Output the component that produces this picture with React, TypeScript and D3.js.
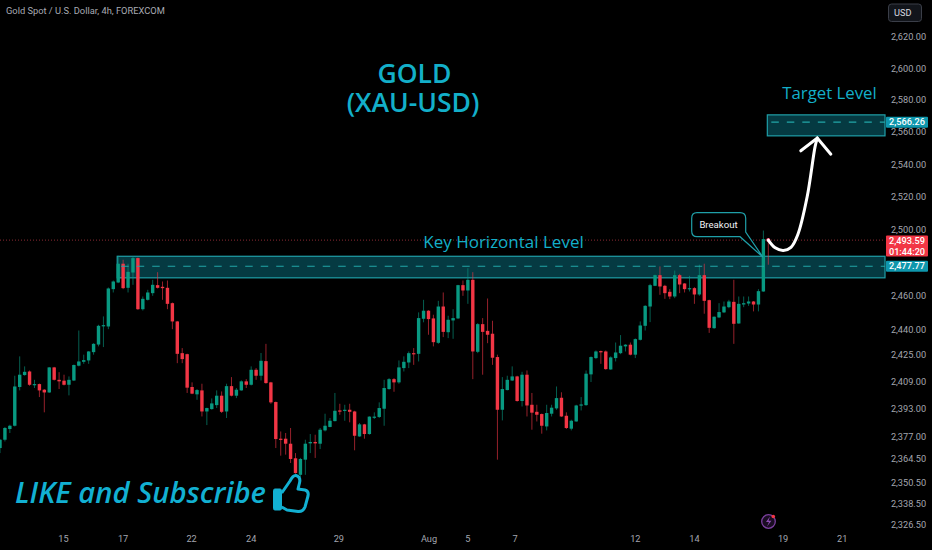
import React, {useRef, useEffect} from 'react';
import * as d3 from 'd3';

const WIDTH = 932;
const HEIGHT = 550;
const PANE_RIGHT = 885;

const opens = [
    2370.5, 2375.3, 2381.5, 2383.4, 2406.0, 2413.0, 2415.1, 2407.1, 2407.7, 2404.4,
    2402.8, 2417.5, 2410.2, 2409.7, 2407.3, 2409.8, 2418.5, 2420.8, 2421.6, 2426.5,
    2431.0, 2441.9, 2441.7, 2464.0, 2468.0, 2479.3, 2464.8, 2474.0, 2482.7, 2452.0,
    2457.6, 2461.6, 2466.4, 2465.4, 2464.8, 2455.6, 2444.7, 2425.9, 2425.3, 2406.0,
    2401.7, 2404.0, 2391.7, 2393.1, 2395.4, 2400.9, 2391.7, 2406.5, 2400.9, 2404.0,
    2409.3, 2407.3, 2416.1, 2412.6, 2421.2, 2408.7, 2397.2, 2375.9, 2375.9, 2373.0,
    2364.6, 2355.1, 2363.8, 2373.2, 2374.0, 2373.0, 2380.7, 2382.7, 2386.1, 2392.3,
    2392.1, 2392.7, 2391.7, 2377.2, 2384.2, 2378.6, 2388.3, 2388.5, 2393.3, 2404.8,
    2410.6, 2408.7, 2417.1, 2420.4, 2425.9, 2425.5, 2446.3, 2451.1, 2446.5, 2432.0,
    2453.6, 2438.3, 2445.3, 2446.5, 2466.4, 2463.2, 2469.6, 2426.7, 2443.1, 2439.1,
    2437.4, 2423.6, 2392.7, 2404.2, 2409.8, 2412.2, 2397.8, 2413.2, 2395.6, 2391.5,
    2390.2, 2383.0, 2390.4, 2393.5, 2399.7, 2389.2, 2381.7, 2385.9, 2395.2, 2395.4,
    2413.4, 2423.0, 2427.1, 2426.9, 2416.3, 2423.0, 2425.9, 2429.9, 2430.9, 2425.0,
    2433.8, 2442.1, 2453.6, 2466.0, 2472.4, 2466.0, 2462.4, 2459.6, 2472.4, 2467.4,
    2464.0, 2464.6, 2460.8, 2472.4, 2457.4, 2440.7, 2447.1, 2450.1, 2453.2, 2456.4,
    2443.5, 2454.8, 2455.4, 2456.6, 2454.8, 2462.6, 2494.2,
];
const highs = [
    2375.7, 2382.7, 2384.0, 2412.6, 2424.0, 2418.1, 2415.7, 2410.2, 2408.0, 2404.8,
    2417.7, 2417.8, 2414.7, 2413.2, 2412.2, 2419.2, 2439.3, 2425.0, 2427.1, 2431.8,
    2442.7, 2447.7, 2465.0, 2469.2, 2484.1, 2481.7, 2479.3, 2483.7, 2483.0, 2459.6,
    2463.6, 2469.6, 2474.2, 2468.6, 2469.2, 2456.0, 2445.0, 2428.9, 2425.6, 2408.7,
    2404.8, 2407.9, 2393.9, 2399.3, 2404.0, 2403.4, 2407.9, 2411.8, 2405.4, 2409.9,
    2410.6, 2418.1, 2417.1, 2426.0, 2431.4, 2409.0, 2397.5, 2380.1, 2379.2, 2382.1,
    2367.6, 2364.8, 2375.3, 2378.6, 2378.2, 2382.1, 2390.4, 2387.9, 2402.5, 2396.2,
    2395.6, 2396.2, 2392.1, 2385.0, 2384.5, 2388.9, 2391.2, 2397.0, 2410.2, 2411.2,
    2411.2, 2421.6, 2424.0, 2426.9, 2428.9, 2450.1, 2457.6, 2451.4, 2448.7, 2457.0,
    2462.0, 2448.1, 2452.0, 2466.6, 2469.2, 2476.6, 2474.2, 2443.7, 2446.7, 2458.4,
    2445.1, 2425.0, 2411.8, 2412.6, 2418.1, 2412.6, 2414.9, 2415.7, 2402.5, 2395.6,
    2390.5, 2395.6, 2395.6, 2406.3, 2402.9, 2391.2, 2386.9, 2395.6, 2400.1, 2415.7,
    2424.0, 2427.5, 2427.4, 2427.5, 2424.0, 2432.2, 2436.6, 2431.2, 2432.2, 2434.6,
    2444.7, 2454.4, 2467.2, 2472.7, 2477.7, 2466.6, 2464.0, 2475.2, 2473.2, 2467.6,
    2472.0, 2465.2, 2478.7, 2479.3, 2457.7, 2447.7, 2455.6, 2456.6, 2457.6, 2469.6,
    2459.6, 2459.6, 2459.6, 2456.9, 2464.0, 2499.4, 2494.4,
];
const lows = [
    2367.6, 2374.3, 2379.2, 2383.0, 2404.0, 2412.6, 2406.7, 2405.4, 2400.1, 2391.2,
    2402.5, 2409.8, 2404.8, 2406.9, 2401.1, 2409.5, 2418.1, 2419.6, 2419.6, 2425.0,
    2429.9, 2429.5, 2440.1, 2462.0, 2467.6, 2464.0, 2462.0, 2466.6, 2451.6, 2451.2,
    2457.2, 2460.0, 2464.4, 2457.6, 2452.0, 2440.1, 2420.0, 2420.0, 2402.5, 2401.8,
    2398.5, 2388.8, 2383.8, 2392.7, 2393.7, 2390.8, 2387.9, 2400.5, 2399.5, 2403.8,
    2405.4, 2406.9, 2410.2, 2409.8, 2407.9, 2396.2, 2370.5, 2366.1, 2366.7, 2361.9,
    2355.7, 2353.8, 2355.1, 2367.6, 2364.8, 2369.9, 2380.1, 2382.5, 2385.9, 2389.8,
    2386.3, 2385.4, 2369.2, 2377.0, 2375.9, 2378.2, 2387.3, 2387.9, 2383.4, 2404.4,
    2403.2, 2407.9, 2415.1, 2417.1, 2419.0, 2421.0, 2444.2, 2436.8, 2429.9, 2431.4,
    2435.4, 2434.8, 2434.4, 2446.1, 2460.0, 2455.2, 2410.6, 2425.9, 2413.2, 2431.8,
    2419.0, 2363.8, 2386.5, 2404.0, 2409.5, 2397.4, 2394.6, 2388.8, 2381.1, 2385.9,
    2378.8, 2380.7, 2388.8, 2392.7, 2388.5, 2381.5, 2380.7, 2385.7, 2392.3, 2395.0,
    2408.9, 2422.4, 2419.6, 2416.1, 2416.1, 2421.0, 2425.3, 2426.9, 2424.6, 2423.0,
    2433.4, 2439.3, 2444.3, 2465.8, 2460.6, 2458.2, 2458.0, 2458.6, 2461.6, 2462.0,
    2462.6, 2455.2, 2460.0, 2449.3, 2437.9, 2440.3, 2446.7, 2449.7, 2452.6, 2431.4,
    2443.3, 2453.2, 2454.0, 2450.7, 2450.7, 2462.4, 2478.7,
];
const closes = [
    2375.3, 2382.1, 2383.4, 2406.3, 2413.2, 2414.9, 2407.3, 2407.7, 2404.0, 2402.8,
    2417.5, 2410.2, 2409.3, 2407.3, 2410.2, 2418.9, 2421.0, 2421.8, 2426.9, 2431.4,
    2442.1, 2442.5, 2464.4, 2468.6, 2479.3, 2464.6, 2474.4, 2482.7, 2452.0, 2458.2,
    2462.0, 2466.6, 2464.8, 2464.6, 2455.2, 2444.7, 2425.5, 2422.4, 2405.6, 2402.1,
    2404.2, 2391.7, 2393.7, 2396.4, 2400.9, 2391.5, 2406.5, 2400.9, 2404.4, 2409.3,
    2407.3, 2416.1, 2412.6, 2421.4, 2408.3, 2397.0, 2375.7, 2375.3, 2373.0, 2364.2,
    2356.1, 2364.2, 2373.0, 2374.0, 2373.2, 2381.1, 2383.4, 2386.3, 2392.1, 2391.7,
    2392.7, 2391.5, 2377.6, 2384.2, 2378.6, 2388.7, 2388.7, 2393.7, 2405.4, 2410.6,
    2408.7, 2417.5, 2420.8, 2425.9, 2425.3, 2446.7, 2451.1, 2446.1, 2432.4, 2453.6,
    2438.5, 2445.7, 2446.7, 2466.4, 2463.2, 2469.6, 2426.9, 2443.1, 2438.5, 2436.8,
    2423.2, 2392.7, 2404.8, 2410.2, 2412.2, 2397.8, 2413.2, 2395.2, 2391.0, 2389.8,
    2383.4, 2390.8, 2393.9, 2399.5, 2388.8, 2382.1, 2386.3, 2395.2, 2395.8, 2413.8,
    2423.6, 2426.9, 2426.7, 2416.5, 2423.4, 2426.3, 2430.3, 2430.9, 2425.0, 2434.2,
    2442.3, 2454.0, 2466.4, 2472.4, 2465.6, 2461.6, 2459.6, 2472.4, 2466.8, 2464.0,
    2464.6, 2460.8, 2472.4, 2457.0, 2440.9, 2447.5, 2450.3, 2453.6, 2456.6, 2443.3,
    2455.2, 2455.6, 2456.6, 2454.8, 2462.8, 2494.2, 2493.59,
];

// 2,480.00 sits behind the key level tag in the reference, so it is left out here
const priceTicks = [
    2620, 2600, 2580, 2560, 2540, 2520, 2500, 2460, 2440, 2425, 2409, 2393, 2377,
    2364.5, 2350.5, 2338.5, 2326.5,
];
const timeLabels = ['15', '17', '22', '24', '29', 'Aug', '5', '7', '12', '14', '19', '21'];
const timeLabelIndex = [12.9, 25, 38.9, 51, 68.8, 87.1, 95, 104.6, 129, 141, 159, 171];

const lastPrice = 2493.59;
const keyLevel = {top: 2483.8, mid: 2477.77, bottom: 2470.8, from: 23.8};
const targetLevel = {top: 2570.8, mid: 2566.26, bottom: 2557.7, from: 155.8};
const arrowIndex = [156, 157.4, 159.05, 160.6, 162, 163.9, 165.5, 165.95];
const arrowPrice = [2493.59, 2488.9, 2487.3, 2489.2, 2497, 2520.2, 2551, 2556.3];
const arrowHeadIndex = [162.6, 165.95, 168.7];
const arrowHeadPrice = [2548.4, 2556.3, 2546.3];

const GREEN = '#089981';
const RED = '#f23645';
const CYAN = '#13afc9';
const TEAL_LINE = '#1f9fa8';
const AXIS_TEXT = '#a3a6af';

const App: React.FC = () => {
    const svgRef = useRef<SVGSVGElement>(null);

    useEffect(() => {
        if (!svgRef.current) return;
        const svg = d3.select(svgRef.current);
        svg.selectAll('*').remove();

        const x = d3.scaleLinear().domain([0, 156]).range([0, 768.3]);
        const y = d3.scaleLog().domain([2326.5, 2620]).range([525, 37]);
        const axisFont = 'Roboto, sans-serif';

        svg.append('rect').attr('width', WIDTH).attr('height', HEIGHT).attr('fill', '#000');

        // last price line
        svg.append('line')
            .attr('x1', 0).attr('x2', PANE_RIGHT)
            .attr('y1', y(lastPrice)).attr('y2', y(lastPrice))
            .attr('stroke', '#8c2a33')
            .attr('stroke-dasharray', '1 2');

        // zones
        [keyLevel, targetLevel].forEach(level => {
            svg.append('rect')
                .attr('x', x(level.from))
                .attr('y', y(level.top))
                .attr('width', PANE_RIGHT - x(level.from))
                .attr('height', y(level.bottom) - y(level.top))
                .attr('fill', '#053a42')
                .attr('stroke', TEAL_LINE)
                .attr('stroke-width', 1.2);
        });

        // candles
        const candles = svg.selectAll('.candle')
            .data(opens.map((o, i) => ({i, o, h: highs[i], l: lows[i], c: closes[i]})))
            .enter()
            .append('g')
            .attr('class', 'candle');

        candles.append('line')
            .attr('x1', d => x(d.i)).attr('x2', d => x(d.i))
            .attr('y1', d => y(d.h)).attr('y2', d => y(d.l))
            .attr('stroke', d => (d.c >= d.o ? GREEN : RED))
            .attr('stroke-opacity', 0.62);

        candles.append('rect')
            .attr('x', d => x(d.i) - 1.7)
            .attr('width', 3.4)
            .attr('y', d => y(Math.max(d.o, d.c)))
            .attr('height', d => Math.max(1.2, Math.abs(y(d.o) - y(d.c))))
            .attr('fill', d => (d.c >= d.o ? GREEN : RED));

        // dashed mid lines
        [keyLevel, targetLevel].forEach(level => {
            svg.append('line')
                .attr('x1', x(level.from) + 4).attr('x2', PANE_RIGHT)
                .attr('y1', y(level.mid)).attr('y2', y(level.mid))
                .attr('stroke', '#22a6a8')
                .attr('stroke-width', 1.2)
                .attr('stroke-dasharray', '7.5 8');
        });

        // price axis
        svg.selectAll('.price-tick')
            .data(priceTicks)
            .enter()
            .append('text')
            .attr('class', 'price-tick')
            .attr('x', 908.5)
            .attr('y', d => y(d))
            .attr('dy', '0.35em')
            .attr('text-anchor', 'middle')
            .attr('fill', AXIS_TEXT)
            .style('font', `9.2px ${axisFont}`)
            .text(d => d3.format(',.2f')(d));

        // time axis
        svg.selectAll('.time-tick')
            .data(timeLabels)
            .enter()
            .append('text')
            .attr('class', 'time-tick')
            .attr('x', (_, i) => x(timeLabelIndex[i]))
            .attr('y', 539)
            .attr('dy', '0.35em')
            .attr('text-anchor', 'middle')
            .attr('fill', AXIS_TEXT)
            .style('font', `9.2px ${axisFont}`)
            .text(d => d);

        // price tags
        const tag = (top: number, h: number, fill: string, lines: string[]) => {
            svg.append('rect')
                .attr('x', 886).attr('y', top)
                .attr('width', 42).attr('height', h)
                .attr('rx', 1)
                .attr('fill', fill);
            lines.forEach((t, i) => {
                svg.append('text')
                    .attr('x', 907).attr('y', top + 5.5 + i * 10.5)
                    .attr('dy', '0.35em')
                    .attr('text-anchor', 'middle')
                    .attr('fill', '#fff')
                    .style('font', `500 9.2px ${axisFont}`)
                    .text(t);
            });
        };
        tag(y(targetLevel.mid) - 5.5, 11, '#0f97ad', [d3.format(',.2f')(targetLevel.mid)]);
        tag(y(keyLevel.mid) - 5.5, 11, '#0f97ad', [d3.format(',.2f')(keyLevel.mid)]);
        tag(y(lastPrice) - 4.5, 21, RED, [d3.format(',.2f')(lastPrice), '01:44:20']);

        // currency button
        svg.append('rect')
            .attr('x', 888.5).attr('y', 4)
            .attr('width', 33).attr('height', 17.5)
            .attr('rx', 3)
            .attr('fill', '#12151b')
            .attr('stroke', '#3a3e48');
        svg.append('text')
            .attr('x', 894).attr('y', 12.8)
            .attr('dy', '0.35em')
            .attr('fill', '#d8dae0')
            .style('font', `9.2px ${axisFont}`)
            .text('USD');

        // header
        svg.append('text')
            .attr('x', 6).attr('y', 11)
            .attr('dy', '0.35em')
            .attr('fill', '#a8abb3')
            .style('font', `9.3px ${axisFont}`)
            .text('Gold Spot / U.S. Dollar, 4h, FOREXCOM');

        // big labels
        const label = (text: string, cx: number, cy: number, size: number, weight = 600) => {
            svg.append('text')
                .attr('x', cx).attr('y', cy)
                .attr('text-anchor', 'middle')
                .attr('fill', CYAN)
                .style('font', `${weight} ${size}px "Open Sans", sans-serif`)
                .text(text);
        };
        label('GOLD', 414.5, 83, 26.5);
        label('(XAU-USD)', 413, 112, 26.5);
        label('Key Horizontal Level', 503.5, 248, 17, 500);
        label('Target Level', 829.5, 99, 16.8, 500);

        svg.append('text')
            .attr('x', 15).attr('y', 503)
            .attr('fill', '#12b0d2')
            .style('font', 'italic 600 29.2px "Open Sans", sans-serif')
            .text('LIKE and Subscribe');

        // thumb icon
        const thumb = svg.append('g').attr('fill', 'none').attr('stroke', '#12b0d2');
        thumb.append('rect')
            .attr('x', 273.5).attr('y', 489).attr('width', 8).attr('height', 21)
            .attr('rx', 1.5)
            .attr('fill', '#12b0d2');
        thumb.append('path')
            .attr('d', 'M281.7,493 L290,481 Q293,475 296,475.5 Q301,477 299.5,483 L298,489 L305,490 Q309,491 308,496 L305,507 Q303,512 298,511.5 L287,510 L281.7,507')
            .attr('stroke-width', 3)
            .attr('stroke-linejoin', 'round');

        // breakout callout
        svg.append('path')
            .attr('d', `M697,212.7 H740 Q745.7,212.7 745.7,218.4 V232 L${x(154.9)},${y(2483.3)} L740,236.7 H697 Q691.7,236.7 691.7,231 V218.4 Q691.7,212.7 697,212.7 Z`)
            .attr('fill', '#000')
            .attr('stroke', TEAL_LINE)
            .attr('stroke-width', 1.2);
        svg.append('text')
            .attr('x', 718.5).attr('y', 224.8)
            .attr('dy', '0.35em')
            .attr('text-anchor', 'middle')
            .attr('fill', '#f2f3f5')
            .style('font', `9.6px ${axisFont}`)
            .text('Breakout');

        // current candle dot
        svg.append('circle')
            .attr('cx', x(156)).attr('cy', y(lastPrice))
            .attr('r', 2)
            .attr('fill', '#f0436a');

        // projected move
        const line = d3.line<number>()
            .x(d => x(d))
            .y((_, i) => y(arrowPrice[i]))
            .curve(d3.curveCatmullRom.alpha(0.5));
        const head = d3.line<number>()
            .x(d => x(d))
            .y((_, i) => y(arrowHeadPrice[i]));
        svg.append('path')
            .attr('d', line(arrowIndex))
            .attr('fill', 'none')
            .attr('stroke', '#fff')
            .attr('stroke-width', 3)
            .attr('stroke-linecap', 'round');
        svg.append('path')
            .attr('d', head(arrowHeadIndex))
            .attr('fill', 'none')
            .attr('stroke', '#fff')
            .attr('stroke-width', 3)
            .attr('stroke-linecap', 'round');

        // bolt badge
        svg.append('circle')
            .attr('cx', 768.5).attr('cy', 521.5).attr('r', 6.8)
            .attr('fill', '#1a0d22')
            .attr('stroke', '#7b3f9e')
            .attr('stroke-width', 1.3);
        svg.append('path')
            .attr('d', 'M770,516.5 L766,522 H769 L767,526.5 L771.5,520.8 H768.5 Z')
            .attr('fill', '#8d4db3');
        svg.append('circle')
            .attr('cx', 773.3).attr('cy', 516.5).attr('r', 1.8)
            .attr('fill', '#f23645');
    }, []);

    return (
        <svg
            ref={svgRef}
            width={WIDTH}
            height={HEIGHT}
            viewBox={`0 0 ${WIDTH} ${HEIGHT}`}
            style={{position: 'absolute', left: 0, top: 0}}
        />
    );
};

export default App;
